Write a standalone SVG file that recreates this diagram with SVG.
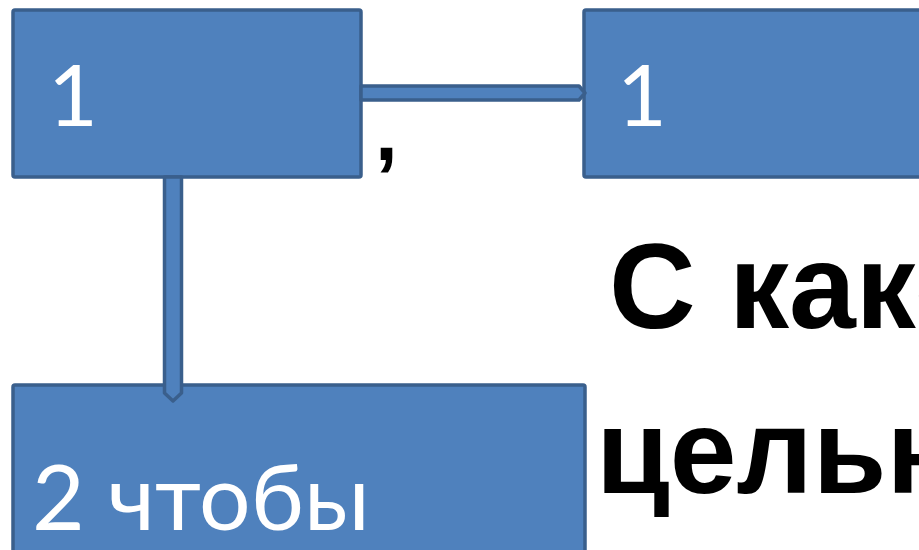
<svg xmlns="http://www.w3.org/2000/svg" width="919" height="550" viewBox="0 0 919 550">
<style>
.box{fill:#4f81bd;stroke:#3a5f8c;stroke-width:3.5}
.lbl{fill:#ffffff;font-family:Lato,"Open Sans",sans-serif;font-size:86px}
.big{fill:#000000;font-family:"Liberation Sans",Arial,sans-serif;font-weight:bold;font-size:120px}
.conn{fill:#4f81bd;stroke:#3a5f8c;stroke-width:3.5;stroke-linejoin:round}
</style>
<rect width="919" height="550" fill="#ffffff"/>
<g id="node1">
<rect class="box" x="13" y="10" width="348" height="167" rx="2"/>
<text class="lbl" x="48" y="126">1</text>
</g>
<g id="node2">
<rect class="box" x="584" y="10" width="345" height="167" rx="2"/>
<text class="lbl" x="617" y="126">1</text>
</g>
<g id="node3">
<rect class="box" x="13" y="385" width="572" height="175" rx="2"/>
<text class="lbl" x="32" y="530" style="font-size:91px">2 чтобы</text>
</g>
<g id="connectors">
<path class="conn" d="M361,86 L579,86 L585,93 L579,100 L361,100 Z"/>
<path class="conn" d="M164.5,177 L164.5,393 L173,401 L181.5,393 L181.5,177 Z"/>
</g>
<text class="big" x="375" y="160" style="font-size:82px">,</text>
<text class="big" x="609" y="328">С како</text>
<text class="big" x="596" y="493">целью</text>
</svg>
